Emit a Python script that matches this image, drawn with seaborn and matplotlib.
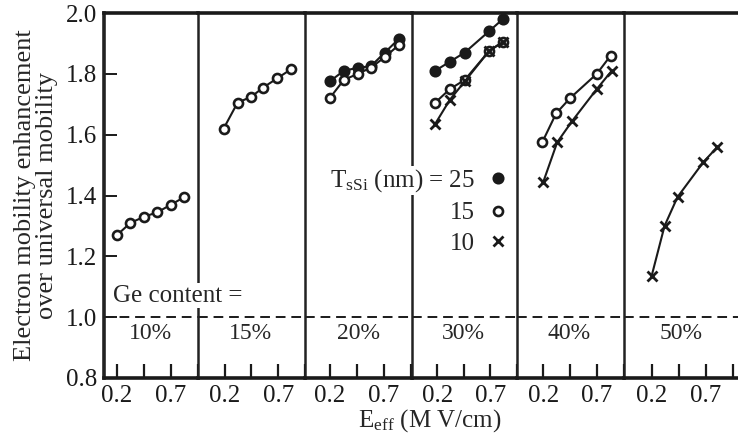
import numpy as np
import pandas as pd
import matplotlib
matplotlib.use("Agg")
import matplotlib.pyplot as plt
from matplotlib.lines import Line2D
import seaborn as sns

# --- values ---
ge_labels = ["10%", "15%", "20%", "30%", "40%", "50%"]

e_10 = [0.2, 0.325, 0.45, 0.575, 0.7, 0.825]
mu_10_t15 = [1.27, 1.31, 1.33, 1.345, 1.37, 1.395]

e_15 = [0.19, 0.32, 0.45, 0.56, 0.69, 0.82]
mu_15_t15 = [1.62, 1.705, 1.725, 1.755, 1.785, 1.815]

e_20 = [0.2, 0.33, 0.46, 0.58, 0.71, 0.84]
mu_20_t25 = [1.775, 1.81, 1.82, 1.825, 1.87, 1.915]
mu_20_t15 = [1.72, 1.78, 1.80, 1.82, 1.855, 1.895]

e_30 = [0.18, 0.32, 0.46, 0.69, 0.82]
mu_30_t25 = [1.81, 1.84, 1.87, 1.94, 1.98]
mu_30_t15 = [1.705, 1.75, 1.78, 1.875, 1.905]
mu_30_t10 = [1.635, 1.715, 1.775, 1.875, 1.905]

e_40_t15 = [0.19, 0.32, 0.45, 0.7, 0.83]
mu_40_t15 = [1.575, 1.67, 1.72, 1.80, 1.86]
e_40_t10 = [0.2, 0.33, 0.47, 0.7, 0.84]
mu_40_t10 = [1.445, 1.575, 1.645, 1.75, 1.81]

e_50 = [0.2, 0.32, 0.44, 0.68, 0.81]
mu_50_t10 = [1.135, 1.30, 1.395, 1.51, 1.56]

series = [
    ("10%", 15, e_10, mu_10_t15),
    ("15%", 15, e_15, mu_15_t15),
    ("20%", 25, e_20, mu_20_t25),
    ("20%", 15, e_20, mu_20_t15),
    ("30%", 25, e_30, mu_30_t25),
    ("30%", 15, e_30, mu_30_t15),
    ("30%", 10, e_30, mu_30_t10),
    ("40%", 15, e_40_t15, mu_40_t15),
    ("40%", 10, e_40_t10, mu_40_t10),
    ("50%", 10, e_50, mu_50_t10),
]
rows = []
for ge, t, es, ms in series:
    for e, m in zip(es, ms):
        rows.append({"ge": ge, "tssi": t, "e": e, "mu": m})
df = pd.DataFrame(rows)

# panel x ranges (MV/cm)
xlims = [(0.08, 0.95), (-0.05, 0.94), (-0.03, 0.96), (-0.04, 0.93), (-0.05, 0.94), (-0.06, 1.0)]

marker_style = {
    25: dict(marker="o", markersize=7.5, markerfacecolor="k", markeredgecolor="k", markeredgewidth=1.2),
    15: dict(marker="o", markersize=6.5, markerfacecolor="white", markeredgecolor="k", markeredgewidth=1.9),
    10: dict(marker="x", markersize=6.5, markeredgecolor="k", markeredgewidth=2.0),
}

sns.set_theme(style="white")
plt.rcParams["font.family"] = ["Liberation Serif", "DejaVu Serif"]
plt.rcParams["mathtext.fontset"] = "custom"
plt.rcParams["mathtext.rm"] = "Liberation Serif"
plt.rcParams["mathtext.it"] = "Liberation Serif:italic"

fig, axes = plt.subplots(1, 6, sharey=True, figsize=(7.38, 4.44), dpi=100,
                         gridspec_kw={"width_ratios": [b - a for a, b in xlims], "wspace": 0})
fig.subplots_adjust(left=104 / 738, right=1.0, top=1 - 13 / 444, bottom=1 - 378 / 444)

for i, (ax, ge) in enumerate(zip(axes, ge_labels)):
    sub = df[df["ge"] == ge]
    for t in [25, 15, 10]:
        s = sub[sub["tssi"] == t]
        if len(s) == 0:
            continue
        sns.lineplot(data=s, x="e", y="mu", ax=ax, color="k", linewidth=1.5,
                     estimator=None, sort=False, legend=False, zorder=3, **marker_style[t])
    ax.axhline(1.0, color="k", linewidth=1.4, dashes=(5, 3), zorder=2)
    ax.set_xlim(*xlims[i])
    ax.set_ylim(0.8, 2.0)
    ax.set_xlabel("")
    ax.set_ylabel("")
    ax.set_xticks([0.2, 0.45, 0.7, 0.95])
    ax.set_xticklabels(["0.2", "", "0.7", ""])
    ax.tick_params(axis="x", direction="in", length=10, width=1.6, pad=5,
                   labelsize=18, colors="k", bottom=True, top=False)
    ax.text(np.mean(xlims[i]), 0.945, ge, ha="center", va="center", fontsize=17)
    for side in ["top", "bottom"]:
        ax.spines[side].set_linewidth(2.6)
        ax.spines[side].set_color("k")
    ax.spines["right"].set_visible(False)
    ax.spines["left"].set_color("#222222")
    ax.spines["left"].set_linewidth(1.8 if i > 0 else 2.6)
    if i > 0:
        ax.tick_params(axis="y", left=False)

axes[0].set_yticks([0.8, 1.0, 1.2, 1.4, 1.6, 1.8, 2.0])
axes[0].set_yticklabels(["0.8", "1.0", "1.2", "1.4", "1.6", "1.8", "2.0"])
axes[0].tick_params(axis="y", direction="in", length=9, width=1.4, pad=5,
                    labelsize=18, colors="k", left=True)

# annotation and legend
fig.text(0.165, 1.07, "Ge content =", transform=axes[0].transData, fontsize=18,
         ha="left", va="center", zorder=10,
         bbox=dict(facecolor="white", edgecolor="none", pad=1))

handles = [Line2D([], [], linestyle="none", color="k", **marker_style[t]) for t in [25, 15, 10]]
labels = ["T$_{\\rm sSi}$ (nm) = 25", "15", "10"]
leg = axes[3].legend(handles, labels, loc="upper right", markerfirst=False, frameon=False,
                     bbox_to_anchor=(505 / 738, 1 - 167 / 444), bbox_transform=fig.transFigure,
                     fontsize=18, handlelength=0.6, handletextpad=0.6, labelspacing=0.32,
                     borderpad=0, borderaxespad=0)
for txt in leg.get_texts():
    txt.set_bbox(dict(facecolor="white", edgecolor="none", pad=0.5))

fig.text(36 / 738, 1 - 195 / 444, "Electron mobility enhancement\nover universal mobility",
         rotation=90, ha="center", va="center", fontsize=19, linespacing=1.0)
fig.text(430 / 738, 1 - 421 / 444, "E$_{\\rm eff}$ (M V/cm)", ha="center", va="center", fontsize=18)

fig.savefig("out.png", dpi=100)
